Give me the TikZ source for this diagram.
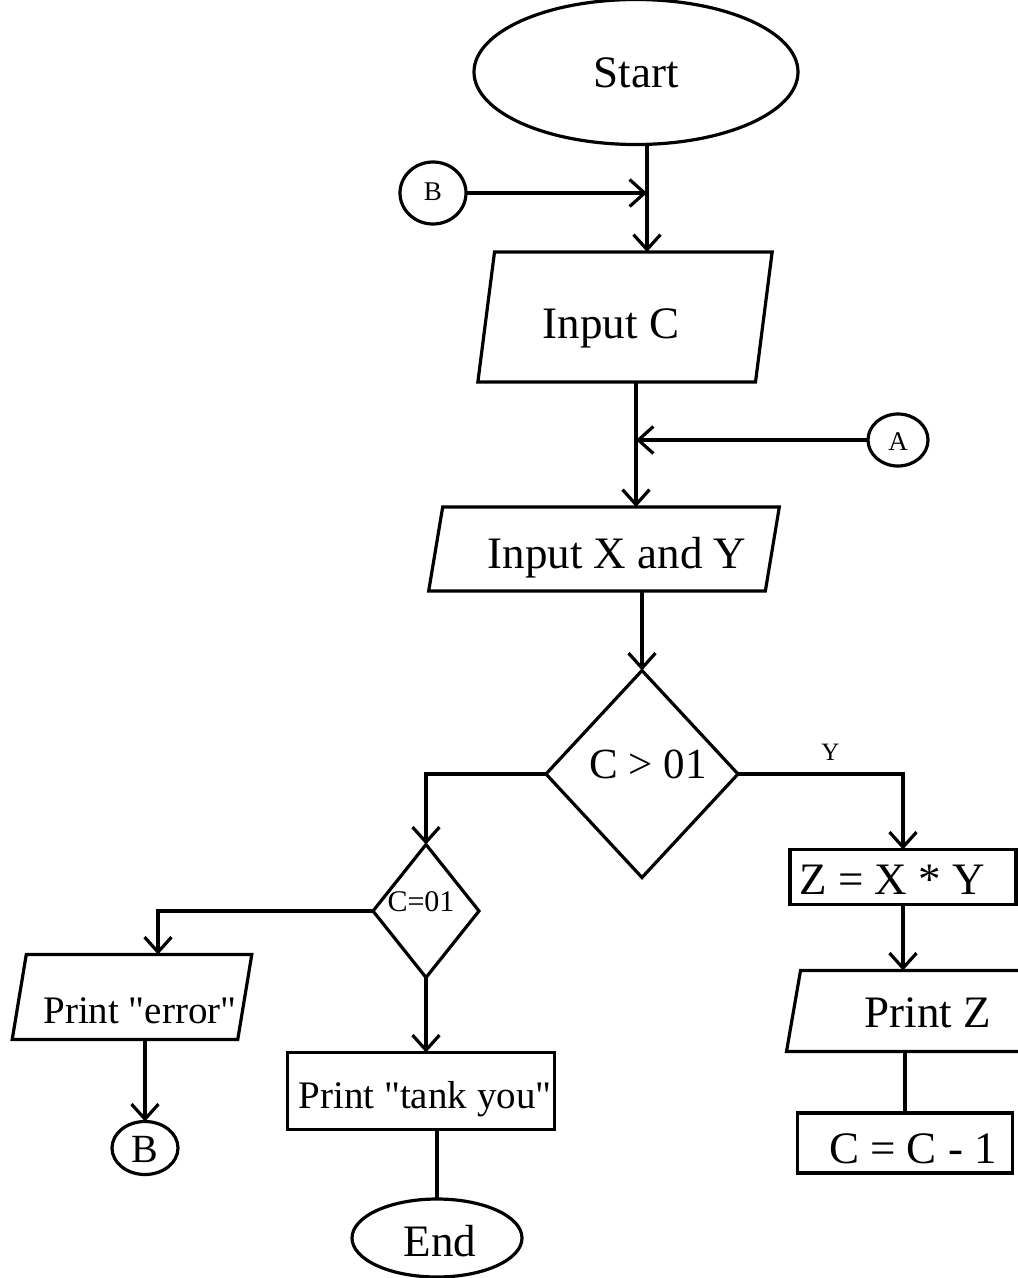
\documentclass[tikz,border=0pt]{standalone}
\usepackage{fontspec}
\setmainfont{Liberation Serif}[Ligatures=TeXOff]
\usetikzlibrary{shapes.geometric,arrows.meta,calc}
\begin{document}
\begin{tikzpicture}[x=1pt,y=-1pt,
  line width=3.2pt,
  every node/.style={inner sep=0pt, outer sep=0pt},
  big/.style={font=\fontsize{45}{54}\selectfont},
  mid/.style={font=\fontsize{39}{47}\selectfont},
  base/.style={text height=#1, text depth=0pt},
  arr/.style={-{Straight Barb[length=15pt,width=27pt]}},
  term/.style={draw, ellipse, big},
  conn/.style={draw, ellipse, font=\fontsize{27}{32}\selectfont},
  io/.style={draw, trapezium, trapezium stretches=true, big},
  proc/.style={draw, rectangle, big},
  dec/.style={draw, diamond, big}]
\useasboundingbox (0,0) rectangle (1018,1278);
\clip (0,0) rectangle (1018,1278);

% nodes
\node[term, base=30pt, minimum width=324pt, minimum height=145pt] (start) at (636,72) {Start};
\node[conn, base=14pt, minimum width=66pt, minimum height=62pt] (Bt) at (433,193) {B};
\coordinate (j1) at (647,193);
\node[io, base=42pt, trapezium left angle=76, trapezium right angle=104,
      minimum width=295pt, minimum height=130pt] (inC) at (625,317) {Input C\hspace*{28pt}};
\coordinate (j2) at (636,440);
\node[conn, base=20pt, minimum width=60pt, minimum height=52pt] (A) at (898,440) {A};
\node[io, base=38pt, trapezium left angle=72, trapezium right angle=108,
      minimum width=352pt, minimum height=84pt] (inX) at (604,549) {\hspace*{26pt}Input X and Y};
\node[dec, base=8pt, font=\fontsize{43}{52}\selectfont, minimum width=192pt, minimum height=207pt] (d1) at (642,774) {\hspace*{12pt}C > 01};
\node[dec, base=0pt, font=\fontsize{30}{34}\selectfont, minimum width=106pt, minimum height=133pt] (d2) at (426,911) {C=01\hspace*{10pt}};
\node[proc, base=34pt, minimum width=226pt, minimum height=55pt] (zb) at (903,877) {Z = X * Y\hspace*{22pt}};
\node[io, mid, base=52pt, trapezium left angle=75, trapezium right angle=105,
      minimum width=240pt, minimum height=85pt] (pe) at (132,997) {\hspace*{16pt}Print "error"};
\node[conn, base=28pt, font=\fontsize{40}{48}\selectfont, minimum width=66pt, minimum height=53pt] (Bb) at (145,1148) {B};
\node[proc, mid, base=34pt, minimum width=267pt, minimum height=77pt] (ty) at (421,1091) {\hspace*{8pt}Print "tank you"};
\node[term, base=36pt, minimum width=170pt, minimum height=78pt] (en) at (437,1238) {\hspace*{6pt}End};
\node[io, base=32pt, trapezium left angle=72, trapezium right angle=108,
      minimum width=247pt, minimum height=81pt] (pz) at (910,1011) {\hspace*{36pt}Print Z};
\node[proc, base=40pt, minimum width=215pt, minimum height=60pt] (cc) at (905,1143) {\hspace*{16pt}C = C - 1};

% connectors
\draw (start.south -| j1) -- (j1);
\draw[arr] (Bt.east) -- (j1);
\draw[arr] (j1) -- (j1 |- inC.north);
\draw (inC.south -| j2) -- (j2);
\draw[arr] (A.west) -- (j2);
\draw[arr] (j2) -- (j2 |- inX.north);
\draw[arr] (inX.south -| d1.north) -- (d1.north);
\draw[arr] (d1.west) -| (d2.north);
\draw[arr] (d1.east) -| node[pos=0.28, above=14pt, font=\fontsize{25}{30}\selectfont] {Y} (zb.north);
\draw[arr] (d2.west) -| ([xshift=26pt]pe.north);
\draw[arr] (pe.south -| Bb.north) -- (Bb.north);
\draw[arr] (d2.south) -- (d2.south |- ty.north);
\draw (ty.south -| en.north) -- (en.north);
\draw[arr] (zb.south) -- (zb.south |- pz.north);
\draw (pz.south -| cc.north) -- (cc.north);
\end{tikzpicture}
\end{document}
